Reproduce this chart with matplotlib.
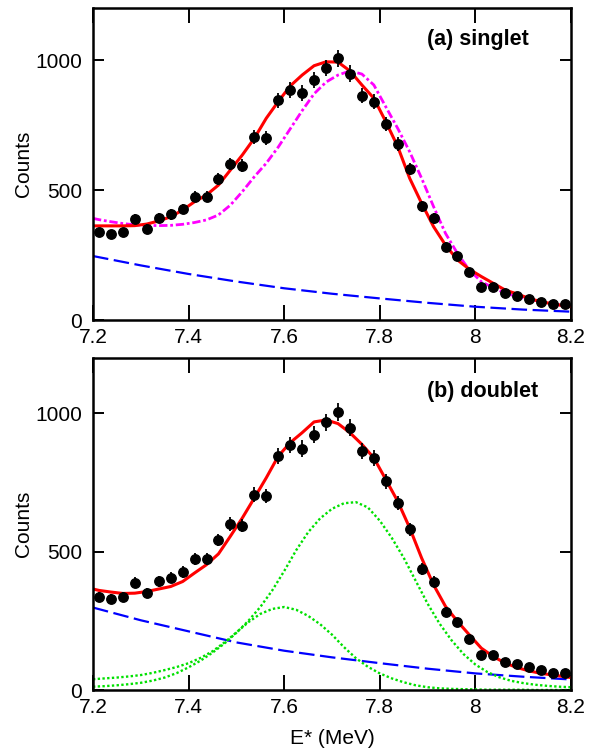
import numpy as np
import matplotlib
matplotlib.use("Agg")
import matplotlib.pyplot as plt

plt.rcParams['font.family'] = ['Liberation Sans', 'DejaVu Sans']

# bin centres (MeV) and measured counts
energy = [7.2125, 7.2375, 7.2625, 7.2875, 7.3125, 7.3375, 7.3625, 7.3875,
          7.4125, 7.4375, 7.4625, 7.4875, 7.5125, 7.5375, 7.5625, 7.5875,
          7.6125, 7.6375, 7.6625, 7.6875, 7.7125, 7.7375, 7.7625, 7.7875,
          7.8125, 7.8375, 7.8625, 7.8875, 7.9125, 7.9375, 7.9625, 7.9875,
          8.0125, 8.0375, 8.0625, 8.0875, 8.1125, 8.1375, 8.1625, 8.1875]
counts = [337, 330, 337, 388, 350, 393, 406, 427, 474, 474,
          542, 600, 594, 705, 701, 846, 885, 872, 923, 968,
          1006, 948, 863, 840, 754, 677, 581, 438, 391, 282,
          246, 186, 128, 128, 103, 94, 82, 71, 60, 60]
errors = [18, 18, 18, 20, 19, 20, 20, 21, 22, 22,
          23, 24, 24, 27, 26, 29, 30, 30, 30, 31,
          32, 31, 29, 29, 27, 26, 24, 21, 20, 17,
          16, 14, 11, 11, 10, 10, 9, 8, 8, 8]

# fit curves sampled at the bin centres plus the range ends
fit_e = [7.2] + energy + [8.2]
singlet_total = [362, 362, 362, 362, 363, 369, 381, 397, 423, 455, 481,
                 519, 577, 635, 699, 776, 840, 900, 942, 978, 993,
                 992, 958, 904, 853, 763, 667, 545, 449, 359, 288,
                 231, 195, 167, 141, 115, 100, 83, 70, 62, 54, 51]
singlet_alt = [391, 386, 378, 371, 366, 364, 363, 364, 368, 375, 385,
               404, 442, 494, 551, 603, 665, 735, 805, 870, 915,
               942, 958, 946, 904, 820, 737, 647, 545, 436, 333,
               256, 192, 147, 124, 103, 90, 80, 70, 62, 54, 51]
doublet_total = [365, 360, 354, 349, 350, 356, 365, 374, 392, 423, 453,
                 492, 556, 622, 694, 767, 845, 894, 930, 969, 976,
                 963, 930, 888, 839, 761, 682, 586, 477, 380, 302,
                 248, 199, 151, 121, 97, 81, 69, 60, 54, 48, 45]

# backgrounds
bg_e = [7.2, 7.3, 7.4, 7.5, 7.6, 7.7, 7.8, 7.9, 8.0, 8.1, 8.2]
bg_singlet = [246, 210, 177, 148, 122, 101, 83, 66, 51, 40, 32]
bg_doublet = [298, 252, 212, 172, 142, 118, 97, 77, 60, 48, 38]

# doublet components
comp_e = [7.200, 7.225, 7.250, 7.275, 7.300, 7.325, 7.350, 7.375, 7.400,
          7.425, 7.450, 7.475, 7.500, 7.525, 7.550, 7.575, 7.600, 7.625,
          7.650, 7.675, 7.700, 7.725, 7.750, 7.775, 7.800, 7.825, 7.850,
          7.875, 7.900, 7.925, 7.950, 7.975, 8.000, 8.025, 8.050, 8.075,
          8.100, 8.125, 8.150, 8.175, 8.200]
comp_high = [12, 14, 17, 21, 26, 34, 45, 61, 82,
             106, 135, 168, 207, 250, 300, 360, 430, 505,
             570, 620, 655, 675, 679, 660, 612, 550, 478,
             395, 312, 240, 180, 130, 92, 65, 46, 33,
             25, 19, 15, 12, 10]
comp_low = [39, 42, 45, 49, 54, 62, 72, 83, 97,
            116, 140, 172, 208, 245, 275, 293, 300, 290,
            268, 238, 200, 155, 115, 84, 60, 42, 28,
            17, 10, 6, 4, 3, 2, 1, 1, 1,
            1, 0, 0, 0, 0]

xticks = [7.2, 7.4, 7.6, 7.8, 8.0, 8.2]
xticklabels = ["7.2", "7.4", "7.6", "7.8", "8", "8.2"]
yticks = [0, 500, 1000]

fig = plt.figure(figsize=(5.98, 7.51), dpi=100)
W, H = 598, 751
ax1 = fig.add_axes([93 / W, 1 - 320 / H, 478 / W, 312 / H])
ax2 = fig.add_axes([93 / W, 1 - 690 / H, 478 / W, 332 / H])


def style_axis(ax):
    ax.set_xlim(7.2, 8.2)
    ax.set_ylim(0, 1200)
    ax.set_xticks(xticks)
    ax.set_xticklabels(xticklabels)
    ax.set_yticks(yticks)
    for s in ax.spines.values():
        s.set_linewidth(1.8)
    ax.tick_params(axis='both', direction='in', top=True, right=True,
                   width=1.4, labelsize=15, colors='black')
    ax.tick_params(axis='x', length=11, pad=5.5)
    ax.tick_params(axis='y', length=8, pad=8)
    ax.set_ylabel("Counts", fontsize=15)
    ax.yaxis.set_label_coords(-0.125, 0.5)


def draw_data(ax):
    ax.errorbar(energy, counts, yerr=errors, fmt='o', color='black',
                markersize=6.8, elinewidth=1.3, capsize=0, zorder=5)


# (a) singlet
ax1.plot(bg_e, bg_singlet, color='#0000ff', lw=1.6, dashes=(7, 2.5))
ax1.plot(fit_e, singlet_alt, color='#ff00ff', lw=2.0, dashes=(3, 1, 1, 1))
ax1.plot(fit_e, singlet_total, color='#ff0000', lw=2.2)
draw_data(ax1)
style_axis(ax1)
ax1.text(0.699, 0.90, "(a) singlet", transform=ax1.transAxes, ha='left',
         va='center', fontsize=15.5, fontweight='bold')

# (b) doublet
ax2.plot(bg_e, bg_doublet, color='#0000ff', lw=1.6, dashes=(7, 2.5))
ax2.plot(comp_e, comp_high, color='#00e000', lw=1.7, dashes=(1, 1))
ax2.plot(comp_e, comp_low, color='#00e000', lw=1.7, dashes=(1, 1))
ax2.plot(fit_e, doublet_total, color='#ff0000', lw=2.2)
draw_data(ax2)
style_axis(ax2)
ax2.text(0.699, 0.898, "(b) doublet", transform=ax2.transAxes, ha='left',
         va='center', fontsize=15.5, fontweight='bold')
ax2.set_xlabel("E* (MeV)", fontsize=15, labelpad=9)

fig.savefig("out.png", dpi=100)
